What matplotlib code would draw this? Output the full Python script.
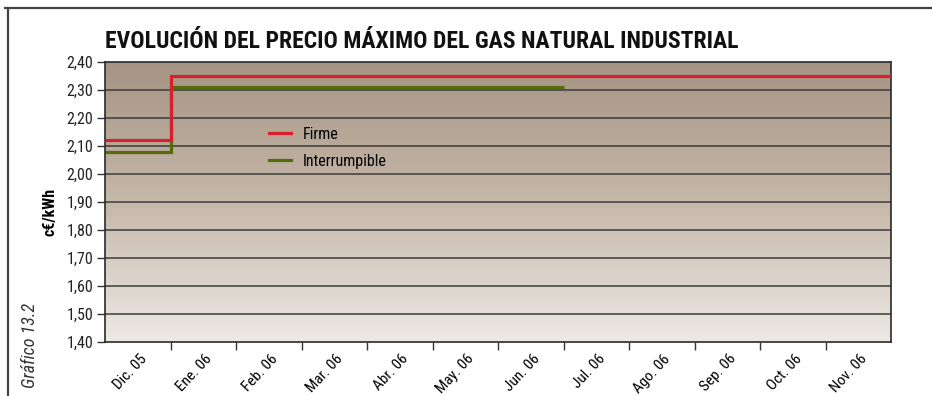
import numpy as np
import matplotlib
matplotlib.use("Agg")
import matplotlib.pyplot as plt
from matplotlib.lines import Line2D
from matplotlib.colors import LinearSegmentedColormap

plt.rcParams['font.family'] = ['Roboto Condensed', 'DejaVu Sans']

# monthly maximum price, c€/kWh
meses = ["Dic. 05", "Ene. 06", "Feb. 06", "Mar. 06", "Abr. 06", "May. 06",
         "Jun. 06", "Jul. 06", "Ago. 06", "Sep. 06", "Oct. 06", "Nov. 06"]
firme = [2.12, 2.35, 2.35, 2.35, 2.35, 2.35, 2.35, 2.35, 2.35, 2.35, 2.35, 2.35]
interrumpible = [2.08, 2.31, 2.31, 2.31, 2.31, 2.31, 2.31]
yticks = [1.40, 1.50, 1.60, 1.70, 1.80, 1.90, 2.00, 2.10, 2.20, 2.30, 2.40]

fig = plt.figure(figsize=(9.32, 3.96), dpi=100)
ax = fig.add_axes([105 / 932, 1 - 342 / 396, 786 / 932, 280 / 396])

# brown-to-light vertical background
cmap = LinearSegmentedColormap.from_list("fondo", ["#a59483", "#c6b8aa", "#ede9e5"])
grad = np.linspace(0, 1, 256).reshape(-1, 1)
ax.imshow(grad, cmap=cmap, aspect='auto', extent=[0, 1, 0, 1],
          transform=ax.transAxes, zorder=0)

ax.set_xlim(0, len(meses))
ax.set_ylim(1.40, 2.40)

for y in yticks[1:-1]:
    ax.axhline(y, color="#3c3c3c", lw=1.1, zorder=1)

edges_f = np.arange(len(firme) + 1)
edges_i = np.arange(len(interrumpible) + 1)
ax.stairs(firme, edges_f, baseline=None, color="#d71f2e", lw=2.3, zorder=3,
          label="Firme")
ax.stairs(interrumpible, edges_i, baseline=None, color="#566b0c", lw=2.3,
          zorder=2, label="Interrumpible")

ax.set_yticks(yticks)
ax.set_yticklabels([f"{v:.2f}".replace(".", ",") for v in yticks], fontsize=11.5)
ax.set_xticks(np.arange(1, len(meses)))
ax.set_xticklabels([])
ax.set_xticks(np.arange(len(meses)) + 0.52, minor=True)
ax.set_xticklabels(meses, minor=True, rotation=47, ha='right', va='top',
                   rotation_mode='anchor', fontsize=11)
ax.tick_params(axis='x', which='minor', length=0, pad=7)
ax.tick_params(axis='x', which='major', length=5.5, width=1, color="#333333")
ax.tick_params(axis='y', length=5.5, width=1, color="#333333", pad=3,
               labelcolor="#222222")

for s in ax.spines.values():
    s.set_color("#2a2a2a")
    s.set_linewidth(1.2)

ax.legend(loc='upper left', bbox_to_anchor=(0.19, 0.82), frameon=False,
          fontsize=11.5, handlelength=1.4, handletextpad=0.7, labelspacing=0.75)

fig.text(105 / 932, 1 - 42 / 396, "EVOLUCIÓN DEL PRECIO MÁXIMO DEL GAS NATURAL INDUSTRIAL",
         fontsize=17, fontweight='bold', ha='left', va='center', color="#111111")
fig.text(50 / 932, 1 - 212 / 396, "c€/kWh", rotation=90, fontsize=11.5,
         fontweight='bold', ha='center', va='center')
fig.text(30 / 932, 1 - 345 / 396, "Gráfico 13.2", rotation=90, fontsize=13,
         style='italic', ha='center', va='center', color="#333333")

# outer frame (top and left edges)
fig.add_artist(Line2D([8 / 932, 8 / 932], [0, 1 - 8 / 396], transform=fig.transFigure,
                      color="#444444", lw=1.6))
fig.add_artist(Line2D([5 / 932, 1], [1 - 8 / 396, 1 - 8 / 396], transform=fig.transFigure,
                      color="#444444", lw=1.6))

fig.savefig("out.png", dpi=100)
